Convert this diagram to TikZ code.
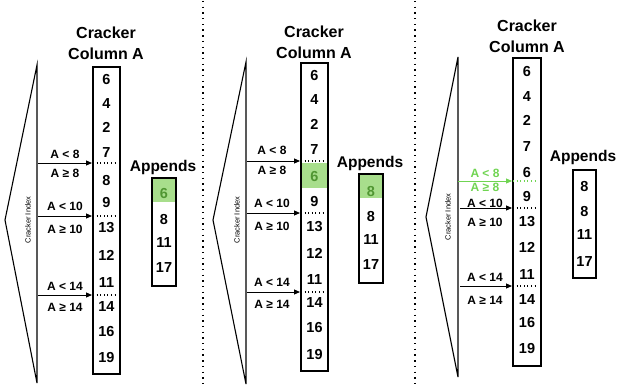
\documentclass[tikz,border=0pt]{standalone}
\usepackage{fontspec}
\setmainfont{Liberation Sans}
\usetikzlibrary{arrows.meta}
\definecolor{gfill}{RGB}{168,222,140}
\definecolor{gtext}{RGB}{80,150,50}
\definecolor{garrow}{RGB}{112,212,82}
\begin{document}
\begin{tikzpicture}[x=1pt,y=-1pt,
  num/.style={font=\fontsize{14.5}{14}\selectfont\bfseries, inner sep=0pt},
  titlenode/.style={font=\fontsize{16}{21}\selectfont\bfseries, align=center, inner sep=0pt},
  appnode/.style={font=\fontsize{15.5}{18}\selectfont\bfseries, inner sep=0pt},
  lab/.style={font=\fontsize{12}{12}\selectfont\bfseries, inner sep=0pt},
  idx/.style={font=\fontsize{7.5}{8}\selectfont, rotate=90, inner sep=0pt},
  colbox/.style={draw, line width=1.1pt, inner sep=0pt},
  tri/.style={line width=1.1pt, line join=miter},
  arr/.style={-{Triangle[length=6pt,width=5pt]}, line width=1pt},
  sepline/.style={line width=1.1pt, dash pattern=on 1pt off 2.6pt},
  vsep/.style={line width=1.3pt, dash pattern=on 1.4pt off 4.3pt}
]
\useasboundingbox (0,0) rectangle (620,385);

% vertical panel separators
\coordinate (s1a) at (203,1); \coordinate (s1b) at (203,385);
\coordinate (s2a) at (415,1); \coordinate (s2b) at (415,385);
\draw[vsep] (s1a) -- (s1b);
\draw[vsep] (s2a) -- (s2b);

% ================= Panel 1 =================
\node[titlenode] (t1) at (106,43.5) {Cracker\\Column A};
\draw[tri] (37,65) -- (5,220) -- (37,383) -- cycle;
\node[idx] (ix1) at (28,220) {Cracker Index};
\node[colbox, minimum width=27pt, minimum height=307pt] (c1) at (106.5,220.5) {};
\foreach \v/\yy [count=\i] in {6/80,4/104,2/127,7/153,8/181,9/203,13/228,12/255,11/283,14/307,16/332,19/358}
  \node[num] (p1n\i) at (106.5,\yy) {\v};
\foreach \yy [count=\i] in {163,216,295}{
  \coordinate (p1d\i) at (93,\yy); \coordinate (p1e\i) at (117,\yy);
  \draw[sepline] (p1d\i) -- (p1e\i);
  \coordinate (p1a\i) at (38,\yy); \coordinate (p1b\i) at (92,\yy);
  \draw[arr] (p1a\i) -- (p1b\i);
}
\node[lab] (p1l1) at (65,154) {A < 8};
\node[lab] (p1g1) at (65,173) {A ≥ 8};
\node[lab] (p1l2) at (65,206) {A < 10};
\node[lab] (p1g2) at (65,229) {A ≥ 10};
\node[lab] (p1l3) at (65,286) {A < 14};
\node[lab] (p1g3) at (65,307) {A ≥ 14};
\node[appnode] (ap1) at (163,167) {Appends};
\fill[gfill] (152,178) rectangle (176,202);
\node[colbox, minimum width=24pt, minimum height=108pt] (a1) at (164,232) {};
\node[num, text=gtext] (p1m1) at (164,194) {6};
\node[num] (p1m2) at (164,220) {8};
\node[num] (p1m3) at (164,243) {11};
\node[num] (p1m4) at (164,268) {17};

% ================= Panel 2 =================
\node[titlenode] (t2) at (314,42) {Cracker\\Column A};
\draw[tri] (246,62) -- (213,220) -- (246,384) -- cycle;
\node[idx] (ix2) at (237,220) {Cracker Index};
\fill[gfill] (301,163) rectangle (328,188);
\node[colbox, minimum width=27pt, minimum height=308pt] (c2) at (314.5,217) {};
\foreach \v/\yy/\cc [count=\i] in {6/76/black,4/100/black,2/124/black,7/150/black,6/177/gtext,9/202/black,13/227/black,12/253/black,11/280/black,14/303/black,16/328/black,19/355/black}
  \node[num, text=\cc] (p2n\i) at (314.5,\yy) {\v};
\foreach \yy [count=\i] in {161,213,292}{
  \coordinate (p2d\i) at (301,\yy); \coordinate (p2e\i) at (325,\yy);
  \draw[sepline] (p2d\i) -- (p2e\i);
  \coordinate (p2a\i) at (247,\yy); \coordinate (p2b\i) at (300,\yy);
  \draw[arr] (p2a\i) -- (p2b\i);
}
\node[lab] (p2l1) at (272,150) {A < 8};
\node[lab] (p2g1) at (272,170) {A ≥ 8};
\node[lab] (p2l2) at (272,203) {A < 10};
\node[lab] (p2g2) at (272,226) {A ≥ 10};
\node[lab] (p2l3) at (272,282) {A < 14};
\node[lab] (p2g3) at (272,304) {A ≥ 14};
\node[appnode] (ap2) at (370,163) {Appends};
\fill[gfill] (359,174) rectangle (383,198);
\node[colbox, minimum width=24pt, minimum height=109pt] (a2) at (371,228.5) {};
\node[num, text=gtext] (p2m1) at (371,192) {8};
\node[num] (p2m2) at (371,217) {8};
\node[num] (p2m3) at (371,240) {11};
\node[num] (p2m4) at (371,265) {17};

% ================= Panel 3 =================
\node[titlenode] (t3) at (527,36.5) {Cracker\\Column A};
\draw[tri] (458,57) -- (426,217) -- (458,377) -- cycle;
\node[idx] (ix3) at (448,217) {Cracker Index};
\node[colbox, minimum width=28pt, minimum height=308pt] (c3) at (527,212) {};
\foreach \v/\yy [count=\i] in {6/72,4/97,2/120,7/147,6/173,9/197,13/222,12/247,11/275,14/300,16/323,19/349}
  \node[num] (p3n\i) at (527,\yy) {\v};
\coordinate (p3d1) at (513,181); \coordinate (p3e1) at (538,181);
\draw[sepline, garrow] (p3d1) -- (p3e1);
\coordinate (p3a1) at (458,181); \coordinate (p3b1) at (512,181);
\draw[arr, garrow] (p3a1) -- (p3b1);
\foreach \yy [count=\i from 2] in {208,286}{
  \coordinate (p3d\i) at (513,\yy); \coordinate (p3e\i) at (538,\yy);
  \draw[sepline] (p3d\i) -- (p3e\i);
  \coordinate (p3a\i) at (460,\yy); \coordinate (p3b\i) at (512,\yy);
  \draw[arr] (p3a\i) -- (p3b\i);
}
\node[lab, text=garrow] (p3l1) at (485,173) {A < 8};
\node[lab, text=garrow] (p3g1) at (485,187.5) {A ≥ 8};
\node[lab] (p3l2) at (485,203) {A < 10};
\node[lab] (p3g2) at (485,222) {A ≥ 10};
\node[lab] (p3l3) at (485,277) {A < 14};
\node[lab] (p3g3) at (485,300) {A ≥ 14};
\node[appnode] (ap3) at (583,157) {Appends};
\node[colbox, minimum width=23pt, minimum height=108pt] (a3) at (584.5,224) {};
\node[num] (p3m1) at (584.5,187) {8};
\node[num] (p3m2) at (584.5,212) {8};
\node[num] (p3m3) at (584.5,235) {11};
\node[num] (p3m4) at (584.5,262) {17};
\end{tikzpicture}
\end{document}
